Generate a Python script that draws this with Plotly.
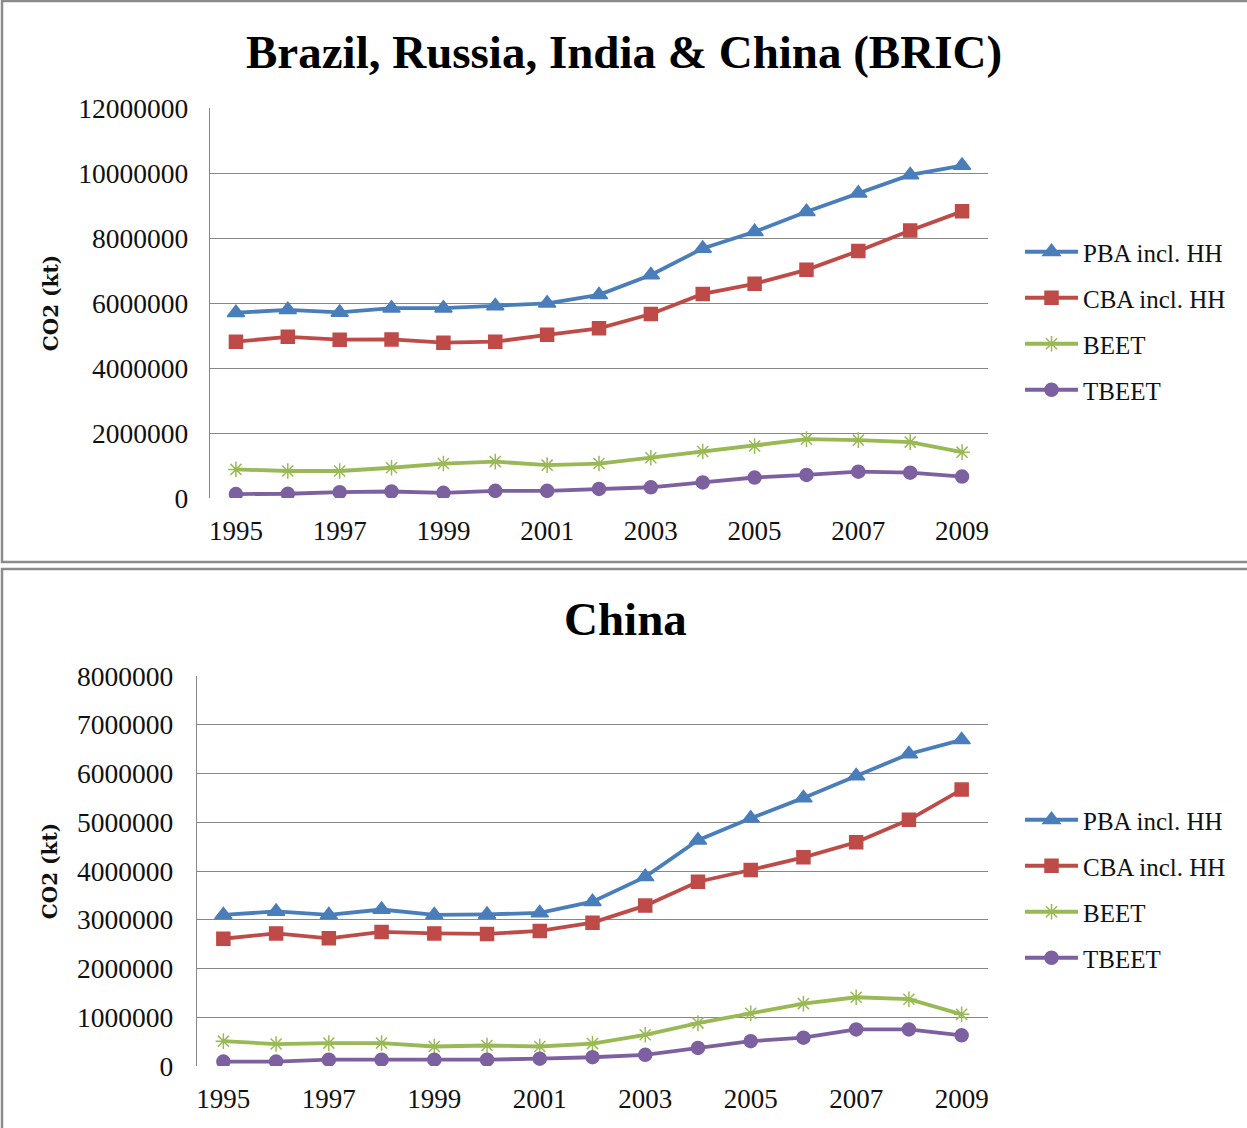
import plotly.graph_objects as go

W, H = 1247, 1128

years = list(range(1995, 2010))
series_names = ["PBA incl. HH", "CBA incl. HH", "BEET", "TBEET"]

# BRIC emissions, kt CO2
bric_pba = [5.70e6, 5.79e6, 5.71e6, 5.84e6, 5.84e6, 5.91e6, 5.99e6, 6.25e6,
            6.86e6, 7.68e6, 8.19e6, 8.81e6, 9.38e6, 9.94e6, 10.23e6]
bric_cba = [4.81e6, 4.96e6, 4.87e6, 4.88e6, 4.78e6, 4.81e6, 5.02e6, 5.22e6,
            5.66e6, 6.28e6, 6.59e6, 7.02e6, 7.60e6, 8.23e6, 8.82e6]
bric_beet = [0.88e6, 0.83e6, 0.83e6, 0.93e6, 1.06e6, 1.12e6, 1.01e6, 1.06e6,
             1.24e6, 1.43e6, 1.60e6, 1.81e6, 1.78e6, 1.72e6, 1.41e6]
bric_tbeet = [0.12e6, 0.13e6, 0.18e6, 0.20e6, 0.16e6, 0.22e6, 0.22e6, 0.28e6,
              0.33e6, 0.48e6, 0.63e6, 0.71e6, 0.81e6, 0.78e6, 0.66e6]

# China emissions, kt CO2
china_pba = [3.10e6, 3.17e6, 3.10e6, 3.21e6, 3.10e6, 3.11e6, 3.14e6, 3.37e6,
             3.88e6, 4.63e6, 5.08e6, 5.50e6, 5.95e6, 6.40e6, 6.69e6]
china_cba = [2.61e6, 2.72e6, 2.62e6, 2.75e6, 2.72e6, 2.71e6, 2.77e6, 2.94e6,
             3.29e6, 3.78e6, 4.02e6, 4.28e6, 4.59e6, 5.05e6, 5.67e6]
china_beet = [0.51e6, 0.45e6, 0.47e6, 0.47e6, 0.40e6, 0.42e6, 0.40e6, 0.46e6,
              0.64e6, 0.88e6, 1.08e6, 1.28e6, 1.41e6, 1.37e6, 1.06e6]
china_tbeet = [0.09e6, 0.09e6, 0.13e6, 0.13e6, 0.13e6, 0.13e6, 0.15e6, 0.18e6,
               0.23e6, 0.37e6, 0.51e6, 0.58e6, 0.75e6, 0.75e6, 0.63e6]

x_tick_labels = ["1995", "1997", "1999", "2001", "2003", "2005", "2007", "2009"]

colors = ["#4A7EBB", "#BE4B48", "#98B954", "#7D60A0"]
symbols = ["triangle-up", "square", "asterisk-open", "circle"]
msizes = [15, 13, 13, 13]

SERIF = "Liberation Serif"
GRID = "#878787"


def px(xp):
    return xp / W


def py(yp):
    return 1 - yp / H


fig = go.Figure()

panels = [
    ("x", "y", "legend", [bric_pba, bric_cba, bric_beet, bric_tbeet]),
    ("x2", "y2", "legend2", [china_pba, china_cba, china_beet, china_tbeet]),
]
for xa, ya, leg, data in panels:
    for i, (name, vals) in enumerate(zip(series_names, data)):
        fig.add_trace(go.Scatter(
            x=years, y=vals, name=name, xaxis=xa, yaxis=ya, legend=leg,
            legendgroup=f"{leg}-{i}",
            mode="lines+markers",
            line=dict(color=colors[i], width=3.8),
            marker=dict(symbol=symbols[i], size=msizes[i], color=colors[i],
                        line=dict(color=colors[i], width=1.5)),
        ))

common_x = dict(
    range=[1994.5, 2009.5], tickvals=[int(t) for t in x_tick_labels],
    ticktext=x_tick_labels, showgrid=False, zeroline=False, showline=False,
    ticks="", tickfont=dict(family=SERIF, size=27, color="#111"),
    ticklabelstandoff=14, automargin=False,
)
common_y = dict(
    tickformat="d", showgrid=True, gridcolor=GRID, gridwidth=1.3,
    zeroline=False, showline=True, linecolor=GRID, linewidth=1.3, ticks="",
    tickfont=dict(family=SERIF, size=27.5, color="#111"),
    automargin=False,
    title=dict(text="<b>CO2 (kt)</b>", standoff=14,
               font=dict(family="DejaVu Serif", size=20, color="#111")),
)

fig.update_layout(
    width=W, height=H,
    margin=dict(l=0, r=0, t=0, b=0, pad=0, autoexpand=False),
    paper_bgcolor="white", plot_bgcolor="white",
    xaxis=dict(domain=[px(210), px(988)], anchor="y", **common_x),
    yaxis=dict(domain=[py(498), py(108)], anchor="x", range=[0, 12e6],
               dtick=2e6, ticklabelstandoff=15, **common_y),
    xaxis2=dict(domain=[px(197), px(988)], anchor="y2", **common_x),
    yaxis2=dict(domain=[py(1066), py(676)], anchor="x2", range=[0, 8e6],
                dtick=1e6, ticklabelstandoff=17, **common_y),
    legend=dict(x=px(1020), y=py(229), xanchor="left", yanchor="top",
                font=dict(family=SERIF, size=25, color="#111"),
                tracegroupgap=10.5, itemwidth=53, bgcolor="rgba(0,0,0,0)"),
    legend2=dict(x=px(1020), y=py(797), xanchor="left", yanchor="top",
                 font=dict(family=SERIF, size=25, color="#111"),
                 tracegroupgap=10.5, itemwidth=53, bgcolor="rgba(0,0,0,0)"),
    showlegend=True,
)

# chart titles
fig.add_annotation(text="<b>Brazil, Russia, India & China (BRIC)</b>",
                   x=px(624), y=py(52), xref="paper", yref="paper",
                   showarrow=False, xanchor="center", yanchor="middle",
                   font=dict(family=SERIF, size=47, color="#000"))
fig.add_annotation(text="<b>China</b>",
                   x=px(625), y=py(619), xref="paper", yref="paper",
                   showarrow=False, xanchor="center", yanchor="middle",
                   font=dict(family=SERIF, size=47, color="#000"))

# panel frames
fig.add_shape(type="rect", xref="paper", yref="paper",
              x0=px(2), x1=px(1260), y0=py(562), y1=py(1),
              line=dict(color="#8C8C8C", width=2.5))
fig.add_shape(type="rect", xref="paper", yref="paper",
              x0=px(2), x1=px(1260), y0=py(1140), y1=py(569),
              line=dict(color="#8C8C8C", width=2.5))

fig.write_html("out.html")
